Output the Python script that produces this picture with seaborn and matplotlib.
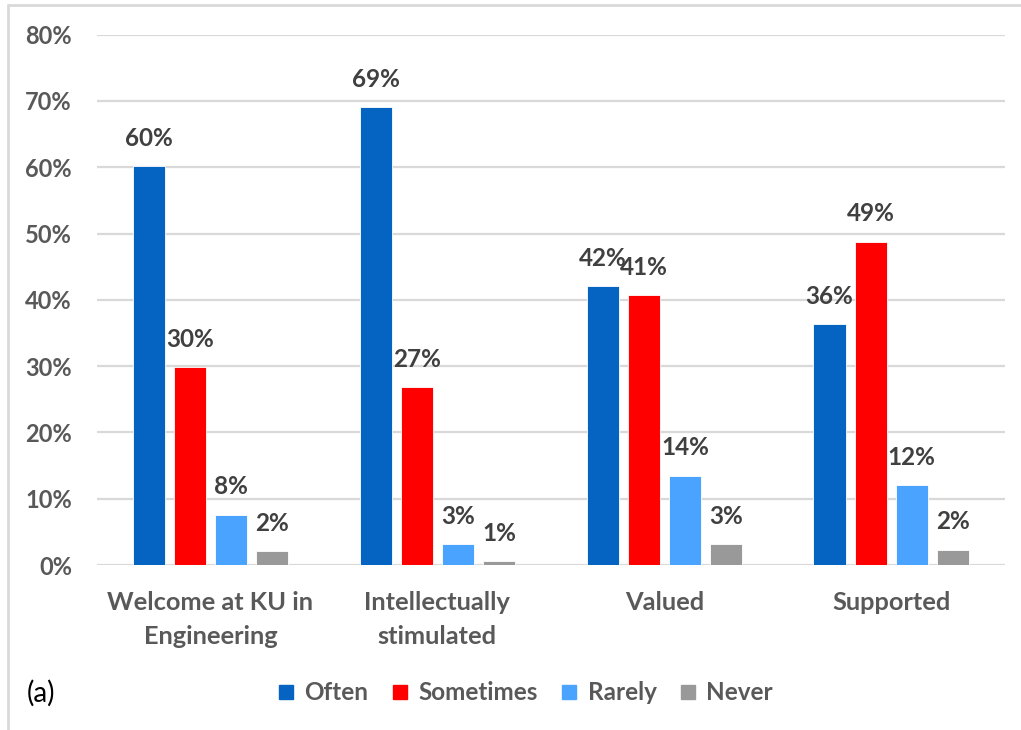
import matplotlib
matplotlib.use("Agg")
import matplotlib.pyplot as plt
import seaborn as sns
import pandas as pd
from matplotlib.lines import Line2D

categories = ["Welcome at KU in\nEngineering", "Intellectually\nstimulated", "Valued", "Supported"]
series = ["Often", "Sometimes", "Rarely", "Never"]
often = [60.2, 69.1, 42.1, 36.3]
sometimes = [29.9, 26.8, 40.7, 48.8]
rarely = [7.6, 3.2, 13.5, 12.1]
never = [2.1, 0.6, 3.2, 2.3]
colors = ["#0563C1", "#FF0000", "#4AA3FF", "#999999"]
yticks = [0, 10, 20, 30, 40, 50, 60, 70, 80]

sns.set_theme(style="white")
plt.rcParams["font.family"] = ["Lato", "DejaVu Sans"]

rows = []
for s, vals in zip(series, [often, sometimes, rarely, never]):
    for c, v in zip(categories, vals):
        rows.append({"category": c, "series": s, "value": v})
df = pd.DataFrame(rows)

fig = plt.figure(figsize=(10.21, 7.3), dpi=100)
ax = fig.add_axes([0.095, 0.226, 0.889, 0.7265])

sns.barplot(data=df, x="category", y="value", hue="series", order=categories,
            hue_order=series, palette=colors, width=0.725, gap=0.22,
            edgecolor="white", linewidth=0.6, legend=False, ax=ax, errorbar=None,
            saturation=1, zorder=3)

ax.set_xlim(-0.5, 3.5)
ax.set_ylim(0, 80)
ax.set_yticks(yticks)
ax.set_yticklabels([f"{t}%" for t in yticks])
ax.yaxis.grid(True, color="#D9D9D9", linewidth=1.6, zorder=0)
ax.set_axisbelow(True)
for sp in ax.spines.values():
    sp.set_visible(False)
ax.set_xlabel("")
ax.set_ylabel("")
ax.tick_params(axis="y", length=0, pad=18, labelsize=17, labelcolor="#595959")
ax.tick_params(axis="x", length=0, pad=19, labelsize=18.3, labelcolor="#595959")
for lbl in ax.get_yticklabels() + ax.get_xticklabels():
    lbl.set_fontweight("bold")
for lbl in ax.get_xticklabels():
    lbl.set_linespacing(1.55)

for cont in ax.containers:
    for bar in cont:
        h = bar.get_height()
        ax.annotate(f"{round(h)}%", (bar.get_x() + bar.get_width() / 2, h),
                    xytext=(0, 20), textcoords="offset points",
                    ha="center", va="center", fontsize=17.5, fontweight="bold",
                    color="#404040", zorder=5)

handles = [Line2D([0], [0], marker="s", linestyle="none", markersize=10.5,
                  markerfacecolor=c, markeredgecolor=c) for c in colors]
leg = fig.legend(handles, series, loc="center", bbox_to_anchor=(0.514, 1 - 693 / 730),
                 ncol=4, frameon=False, handlelength=0.8, handletextpad=0.35,
                 columnspacing=0.9, prop={"size": 17.5, "weight": "bold"})
for t in leg.get_texts():
    t.set_color("#595959")

fig.text(0.026, 1 - 693 / 730, "(a)", ha="left", va="center", fontsize=20, color="black")

# outer chart border (left and top visible)
fig.add_artist(Line2D([8 / 1021, 8 / 1021], [0, 1 - 5 / 730], transform=fig.transFigure,
                      color="#D9D9D9", linewidth=2))
fig.add_artist(Line2D([8 / 1021, 1], [1 - 5 / 730, 1 - 5 / 730], transform=fig.transFigure,
                      color="#D9D9D9", linewidth=2))

fig.savefig("out.png", dpi=100, facecolor="white")
